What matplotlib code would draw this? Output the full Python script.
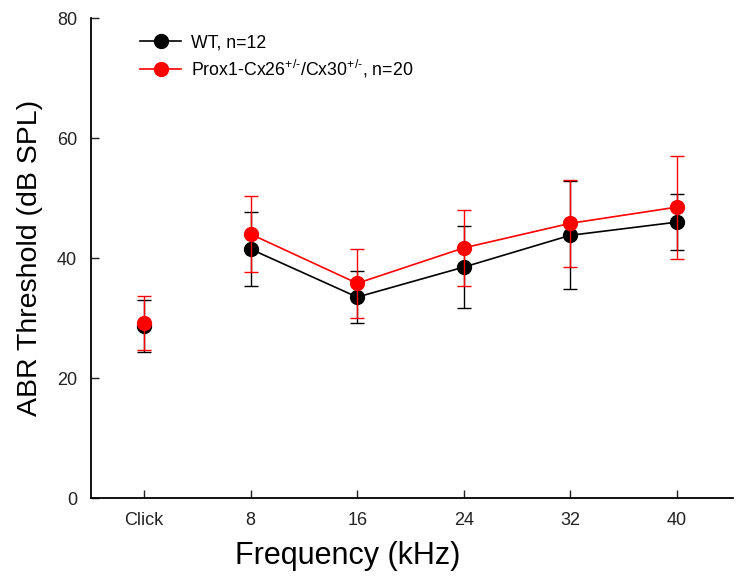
import matplotlib
matplotlib.use('Agg')
import matplotlib.pyplot as plt

plt.rcParams['font.family'] = ['Liberation Sans', 'DejaVu Sans']
plt.rcParams['mathtext.fontset'] = 'custom'
plt.rcParams['mathtext.rm'] = 'Liberation Sans'
plt.rcParams['mathtext.it'] = 'Liberation Sans'

# data
labels = ['Click', '8', '16', '24', '32', '40']
wt_mean = [28.7, 41.5, 33.5, 38.5, 43.8, 46.0]
wt_err = [4.4, 6.2, 4.3, 6.8, 9.0, 4.7]
prox_mean = [29.2, 44.0, 35.8, 41.7, 45.8, 48.5]
prox_err = [4.5, 6.3, 5.8, 6.3, 7.3, 8.6]

x = list(range(len(labels)))

fig = plt.figure(figsize=(7.44, 5.88), dpi=100)
ax = fig.add_axes([0.1223, 0.153, 0.863, 0.816])

# Click is not connected to the frequency curve
ax.errorbar(x[0], wt_mean[0], yerr=wt_err[0], fmt='o', color='black', ms=10,
            elinewidth=1, capsize=5, capthick=1, zorder=2)
ax.errorbar(x[0], prox_mean[0], yerr=prox_err[0], fmt='o', color='red', ms=10,
            elinewidth=1, capsize=5, capthick=1, zorder=3)
ax.errorbar(x[1:], wt_mean[1:], yerr=wt_err[1:], fmt='-o', color='black', ms=10,
            lw=1.2, elinewidth=1, capsize=5, capthick=1, zorder=2,
            label='WT, n=12')
ax.errorbar(x[1:], prox_mean[1:], yerr=prox_err[1:], fmt='-o', color='red', ms=10,
            lw=1.2, elinewidth=1, capsize=5, capthick=1, zorder=3,
            label='Prox1-Cx26$^{+/\u2010}$/Cx30$^{+/\u2010}$, n=20')

ax.set_xlim(-0.5, 5.53)
ax.set_ylim(0, 80)
ax.set_yticks([0, 20, 40, 60, 80])
ax.set_xticks(x)
ax.set_xticklabels(labels)
ax.spines['top'].set_visible(False)
ax.spines['right'].set_visible(False)
ax.spines['left'].set_linewidth(1.3)
ax.spines['bottom'].set_linewidth(1.3)
ax.tick_params(direction='in', length=6, width=1, labelsize=13, colors='#222222',
               pad=10)

ax.set_xlabel('Frequency (kHz)', fontsize=22)
ax.xaxis.set_label_coords(0.40, -0.09)
ax.set_ylabel('ABR Threshold (dB SPL)', fontsize=20.5, labelpad=10)

h, l = ax.get_legend_handles_labels()
h = [hh[0] for hh in h]
ax.legend(h, l, loc='upper left', bbox_to_anchor=(0.052, 1.0), frameon=False,
          fontsize=12.8, handlelength=2.3, handletextpad=0.55, labelspacing=0.35)

fig.savefig('out.png', dpi=100)
